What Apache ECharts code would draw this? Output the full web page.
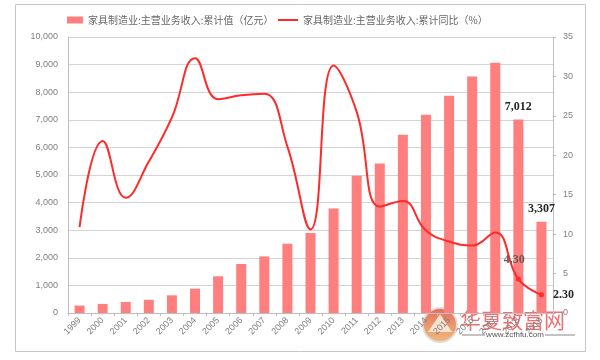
<!DOCTYPE html>
<html>
<head>
<meta charset="utf-8">
<script src="https://cdn.jsdelivr.net/npm/echarts@6/dist/echarts.min.js"></script>
<style>
html,body{margin:0;padding:0;background:#fff;}
#chart{width:600px;height:360px;}
</style>
</head>
<body>
<div id="chart"></div>
<script>
var years = ['1999','2000','2001','2002','2003','2004','2005','2006','2007','2008','2009','2010','2011','2012','2013','2014','2015','2016','2017','2018','2019'];
var revenue = [270,330,400,480,640,880,1330,1775,2050,2510,2900,3790,4975,5420,6460,7185,7870,8570,9070,7012,3307];
var yoy = [10.9,21.8,14.6,19.2,24.8,32.3,27.1,27.6,27.8,21.1,10.6,31.4,25.5,13.5,14.2,10.45,9.06,8.55,10.2,4.30,2.30];
var barName = '家具制造业:主营业务收入:累计值（亿元）';
var lineName = '家具制造业:主营业务收入:累计同比（%）';
var leftTicks = {min:0, max:10000, interval:1000};
var rightTicks = {min:0, max:35, interval:5};

function thousands(v){
  var s = String(Math.round(v));
  return s.replace(/\B(?=(\d{3})+(?!\d))/g, ',');
}

var n = years.length;
var barData = revenue.map(function(v, i){
  var item = {value: v};
  if (i >= n - 2) {
    item.label = {show: true, position: 'top', distance: 7,
      formatter: function(p){ return thousands(p.value); },
      fontFamily: 'Liberation Serif', fontWeight: 'bold', fontSize: 12, color: '#262626'};
  }
  return item;
});
var lineData = yoy.map(function(v, i){
  var item = {value: v};
  if (i === n - 2) {
    item.symbolSize = 5;
    item.label = {show: true, position: 'top', distance: 11, offset: [-4, 0],
      formatter: function(p){ return p.value.toFixed(2); },
      fontFamily: 'Liberation Serif', fontWeight: 'bold', fontSize: 12, color: '#6b5555'};
  } else if (i === n - 1) {
    item.symbolSize = 5;
    item.label = {show: true, position: 'right', distance: 9,
      formatter: function(p){ return p.value.toFixed(2); },
      fontFamily: 'Liberation Serif', fontWeight: 'bold', fontSize: 12, color: '#262626'};
  }
  return item;
});

var chart = echarts.init(document.getElementById('chart'), null, {renderer: 'canvas'});
var axisLabelStyle = {color: '#7f7f7f', fontSize: 9, fontFamily: 'Liberation Sans'};
chart.setOption({
  animation: false,
  backgroundColor: '#fff',
  textStyle: {fontFamily: 'Liberation Sans'},
  grid: {left: 68, right: 47, top: 37, bottom: 47},
  legend: [
    {data: [barName], left: 62, top: 10, itemWidth: 16, itemHeight: 7, icon: 'rect', itemGap: 4,
     textStyle: {color: '#666', fontSize: 10, fontFamily: 'Noto Sans CJK SC'}},
    {data: [lineName], left: 273, top: 10, itemWidth: 20, itemHeight: 2, icon: 'rect', itemGap: 4,
     textStyle: {color: '#666', fontSize: 10, fontFamily: 'Noto Sans CJK SC'}}
  ],
  xAxis: {
    type: 'category', data: years, boundaryGap: true,
    axisLine: {lineStyle: {color: '#bfbfbf'}},
    axisTick: {show: true, length: 3, lineStyle: {color: '#bfbfbf'}},
    axisLabel: Object.assign({rotate: 45, margin: 6, interval: 0}, axisLabelStyle)
  },
  yAxis: [
    {type: 'value', min: leftTicks.min, max: leftTicks.max, interval: leftTicks.interval,
     axisLine: {show: true, lineStyle: {color: '#bfbfbf'}},
     axisTick: {show: false},
     axisLabel: Object.assign({margin: 10, formatter: function(v){ return thousands(v); }}, axisLabelStyle),
     splitLine: {show: true, lineStyle: {color: '#d4d4d4', width: 1}}},
    {type: 'value', min: rightTicks.min, max: rightTicks.max, interval: rightTicks.interval, position: 'right',
     axisLine: {show: true, lineStyle: {color: '#bfbfbf'}},
     axisTick: {show: true, length: 3, lineStyle: {color: '#bfbfbf'}},
     axisLabel: Object.assign({margin: 10}, axisLabelStyle),
     splitLine: {show: false}}
  ],
  series: [
    {name: barName, type: 'bar', data: barData, barWidth: 10, yAxisIndex: 0,
     itemStyle: {color: '#ff7f7f'}, z: 2},
    {name: lineName, type: 'line', data: lineData, yAxisIndex: 1, smooth: 0.45,
     symbol: 'circle', symbolSize: 0, showSymbol: true,
     lineStyle: {color: '#ff2a2a', width: 2}, itemStyle: {color: '#ff2a2a'}, z: 3}
  ],
  graphic: [
    {type: 'rect', shape: {x: 15.5, y: 4.5, width: 570, height: 347}, z: 100,
     style: {fill: 'none', stroke: '#c6c6c6', lineWidth: 1}, silent: true},
    {type: 'group', z: 100, silent: true, children: [
      {type: 'circle', shape: {cx: 440, cy: 325, r: 17},
       style: {fill: new echarts.graphic.LinearGradient(0, 0, 0, 1, [
         {offset: 0, color: '#e2574a'}, {offset: 0.5, color: '#e98b5e'}, {offset: 1, color: '#ecb36e'}]),
         stroke: '#e2dcda', lineWidth: 2, opacity: 0.9}},
      {type: 'polygon', shape: {points: [[428, 332], [440, 314], [452, 332]]},
       style: {fill: '#f7ecd8', opacity: 0.9}},
      {type: 'text', x: 460, y: 320,
       style: {text: '华夏致富网', fill: '#e8585a', opacity: 0.85, font: '21px "Noto Sans CJK SC"', textVerticalAlign: 'middle'}},
      {type: 'line', shape: {x1: 462, y1: 335, x2: 485, y2: 335}, style: {stroke: '#888', lineWidth: 1}},
      {type: 'line', shape: {x1: 545, y1: 335, x2: 575, y2: 335}, style: {stroke: '#888', lineWidth: 1}},
      {type: 'text', x: 515, y: 335,
       style: {text: 'www.zcfhfu.com', fill: '#555', font: '8px "Liberation Sans"', textAlign: 'center', textVerticalAlign: 'middle',
         backgroundColor: '#fff'}}
    ]}
  ]
});
</script>
</body>
</html>
